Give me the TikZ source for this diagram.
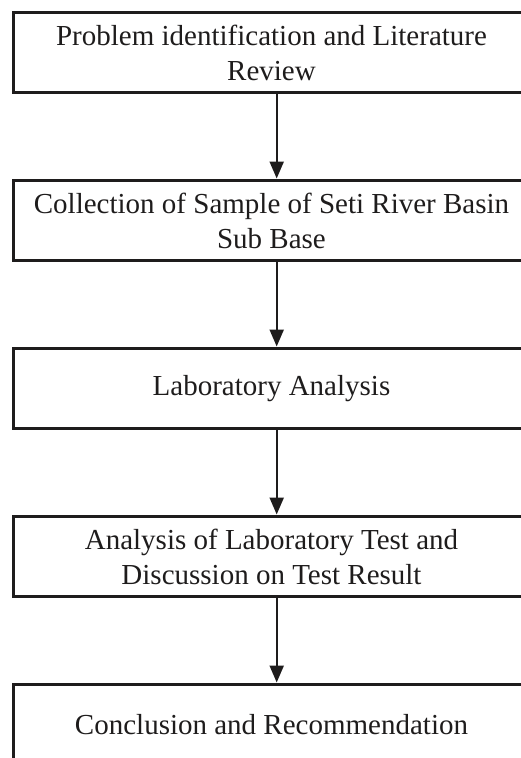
\documentclass[tikz,border=0pt]{standalone}
\usepackage{fontspec}
\setmainfont{Liberation Serif}
\usetikzlibrary{arrows.meta}
\definecolor{ink}{RGB}{30,28,28}
\begin{document}
\begin{tikzpicture}[x=1pt,y=1pt,
  flowbox/.style={draw=ink, line width=2.2pt, minimum width=516pt, minimum height=80pt,
    inner sep=0pt, outer sep=0pt, align=center, text=ink, font=\fontsize{29}{35}\selectfont},
  flowarrow/.style={draw=ink, line width=2.2pt, -{Triangle[width=14pt,length=17pt]}, shorten >=2pt}]
\useasboundingbox (0,0) rectangle (521,-758);
\clip (0,0) rectangle (521,-758);
\node[flowbox] (b1) at (271.5,-52.5) {Problem identification and Literature\\Review};
\node[flowbox] (b2) at (271.5,-220.5) {Collection of Sample of Seti River Basin\\Sub Base};
\node[flowbox] (b3) at (271.5,-388.5) {Laboratory Analysis};
\node[flowbox] (b4) at (271.5,-556.5) {Analysis of Laboratory Test and\\Discussion on Test Result};
\node[flowbox] (b5) at (271.5,-724.5) {Conclusion and Recommendation};
\draw[flowarrow] ([xshift=5.2pt]b1.south) -- ([xshift=5.2pt]b2.north);
\draw[flowarrow] ([xshift=5.2pt]b2.south) -- ([xshift=5.2pt]b3.north);
\draw[flowarrow] ([xshift=5.2pt]b3.south) -- ([xshift=5.2pt]b4.north);
\draw[flowarrow] ([xshift=5.2pt]b4.south) -- ([xshift=5.2pt]b5.north);
\end{tikzpicture}
\end{document}
